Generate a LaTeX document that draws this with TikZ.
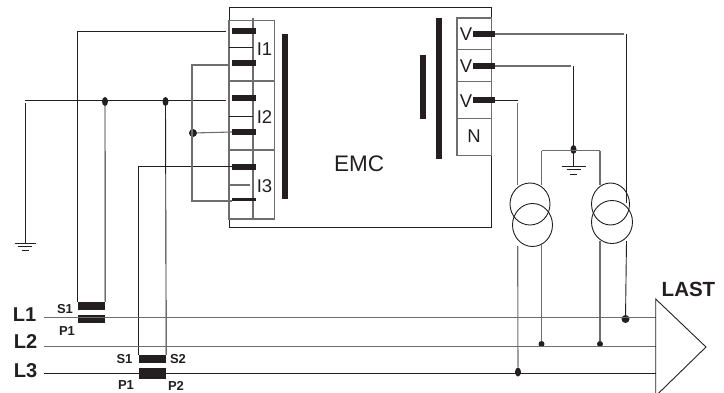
\documentclass[tikz,border=0pt]{standalone}
\usepackage{fontspec}
\setmainfont{Liberation Sans}
\usetikzlibrary{shapes.geometric}
\definecolor{barcol}{HTML}{231F20}
\definecolor{wiregrey}{HTML}{6E6E6E}
\tikzset{
  wire/.style={draw=barcol,line width=0.9pt},
  greywire/.style={draw=wiregrey,line width=1.1pt},
  thinbox/.style={draw=barcol,line width=0.9pt},
  barnode/.style={fill=barcol,inner sep=0pt,minimum width=24pt,minimum height=6pt},
  vbar/.style={fill=barcol,inner sep=0pt,minimum width=6pt},
  ctbar/.style={fill=barcol,inner sep=0pt,minimum width=27pt,minimum height=8pt},
  dotnode/.style={ellipse,fill=barcol,inner sep=0pt,minimum width=6pt,minimum height=6pt},
  tallnode/.style={dotnode,minimum height=9pt},
  termlabel/.style={inner sep=0pt,text=barcol,font=\fontsize{18.5}{18.5}\selectfont},
  ctlabel/.style={inner sep=0pt,text=barcol,font=\fontsize{13}{13}\selectfont\bfseries},
  linelabel/.style={inner sep=0pt,text=barcol,font=\fontsize{20}{20}\selectfont\bfseries}
}
\begin{document}
\begin{tikzpicture}[x=1pt,y=-1pt]
\useasboundingbox (0,0) rectangle (724,392);
\draw[thinbox] (229,7) rectangle (491.5,227.5);
\draw[greywire] (229,20.5) rectangle (274.5,219);
\draw[greywire] (229,81) -- (274.5,81);
\draw[greywire] (229,150) -- (274.5,150);
\draw[greywire] (253,18) -- (253,219);
\draw[wire] (229,47) -- (253,47);
\draw[wire] (229,116) -- (253,116);
\draw[greywire] (229,185) -- (250,185);
\draw[greywire] (457,18) rectangle (491.5,155.5);
\draw[greywire] (457,49.5) -- (491.5,49.5);
\draw[greywire] (457,81.5) -- (491.5,81.5);
\draw[greywire] (457,118.5) -- (491.5,118.5);

\node[barnode] (ione) at (244,31) {};
\node[barnode] (itwo) at (244,63) {};
\node[barnode] (ithree) at (244,98) {};
\node[barnode] (ifour) at (244,132) {};
\node[barnode] (ifive) at (244,167) {};
\node[barnode,minimum height=3pt] (isix) at (244,199) {};
\node[barnode,minimum width=22pt] (vone) at (484,34) {};
\node[barnode,minimum width=22pt] (vtwo) at (484,66) {};
\node[barnode,minimum width=22pt] (vthree) at (484,100) {};
\node[vbar,minimum height=165pt] (barleft) at (285,116.5) {};
\node[vbar,minimum height=141pt] (barright) at (439,88.5) {};
\node[vbar,minimum height=64pt] (barmid) at (423,87) {};

\node[termlabel] (labi) at (264.5,49) {I1};
\node[termlabel] (labii) at (264.5,117) {I2};
\node[termlabel] (labiii) at (264.5,186) {I3};
\node[termlabel] (labva) at (466,34) {V};
\node[termlabel] (labvb) at (466,66) {V};
\node[termlabel] (labvc) at (466,101) {V};
\node[termlabel] (labn) at (474,136) {N};
\node[termlabel,font=\fontsize{22.5}{22.5}\selectfont] (labemc) at (359,164) {EMC};

\node[ctbar] (ctaup) at (91.5,306) {};
\node[ctbar] (ctalow) at (91.5,319) {};
\node[ctbar] (ctbup) at (152.5,359) {};
\node[ctbar,minimum height=11pt] (ctblow) at (152.5,373.5) {};

\node[tallnode] (jone) at (105,101.5) {};
\node[tallnode] (jtwo) at (165.5,101.5) {};
\node[dotnode,minimum width=8pt,minimum height=8pt] (jthree) at (193,133) {};
\node[tallnode] (jfour) at (573.5,149.5) {};
\node[dotnode,minimum width=8pt,minimum height=8pt] (jfive) at (625.5,319) {};
\node[dotnode] (jsix) at (541.5,344) {};
\node[dotnode] (jseven) at (600,344) {};
\node[tallnode] (jeight) at (518,372) {};

\coordinate (gnda) at (25,100);
\coordinate (gndb) at (25,103);
\coordinate (gndc) at (25,243);
\coordinate (gndd) at (573.5,166);
\coordinate (ione in) at (226,31);
\coordinate (ithree in) at (226,100);
\coordinate (ifive in) at (232,166);
\coordinate (itwo in) at (229,65);
\coordinate (itwo turn) at (192,65);
\coordinate (isix turn) at (192,201);
\coordinate (ifour in) at (232,132);
\coordinate (isix in) at (232,201);
\coordinate (vthree turn) at (517.7,103);
\coordinate (boxl) at (541.5,150.5);
\coordinate (boxr) at (600,150.5);

\draw[wire] (ione in) -| (ctaup.north west);
\draw[wire] (gnda) -- (ithree in);
\draw[wire] (gndb) -- (gndc);
\draw[wire] (jone) -- (ctaup.north east);
\draw[wire] (jtwo) -- (ctbup.north east);
\draw[wire] (ifive in) -| (ctbup.north west);
\draw[greywire] (itwo in) -- (itwo turn) -- (isix turn) -- (isix in);
\draw[greywire] (jthree) -- (ifour in);

\draw[greywire] (vone.east) -- (624,34);
\draw[wire] (626.5,34) -- (626.5,203);
\draw[greywire] (vtwo.east) -- (571,66);
\draw[wire] (573.5,66) -- (jfour);
\draw[wire] (jfour) -- (gndd);
\draw[wire] (vthree.east) -- (518,100);
\draw[greywire] (vthree turn) -- (517.7,185);
\draw[greywire] (boxl) -- (boxr);
\draw[greywire] (boxl) -- (541.5,185);
\draw[greywire] (boxr) -- (600,185);

\draw[thinbox] (gndc) ++(-10.5,0) -- ++(21,0);
\draw[thinbox] (gndc) ++(-7,3.5) -- ++(14,0);
\draw[thinbox] (gndc) ++(-3.5,7) -- ++(7,0);
\draw[thinbox] (gndd) ++(-12,0) -- ++(24,0);
\draw[thinbox] (gndd) ++(-7,3.5) -- ++(14,0);
\draw[thinbox] (gndd) ++(-3.5,8) -- ++(7,0);

\draw[thinbox] (530,204) ellipse (20 and 21);
\draw[thinbox] (532.5,225) ellipse (20 and 21.5);
\draw[thinbox] (610.5,204) ellipse (19 and 21);
\draw[thinbox] (612,222) ellipse (20.5 and 21.5);

\draw[greywire] (517.7,246) -- (jeight);
\draw[greywire] (541.5,245) -- (jsix);
\draw[greywire] (600,241) -- (jseven);
\draw[wire] (626.5,241) -- (jfive);

\coordinate (lastt) at (655.7,299);
\coordinate (lastb) at (655.7,396);
\coordinate (lasta) at (706,347);
\draw[greywire] (44,317.7) -- (655.7,317.7);
\draw[greywire] (44,346.7) -- (655.7,346.7);
\draw[wire] (44,373.3) -- (655.7,373.3);
\draw[thinbox] (lastt) -- (lasta) -- (lastb) -- cycle;

\node[linelabel] (labla) at (24.5,315) {L1};
\node[linelabel] (lablb) at (25.5,342) {L2};
\node[linelabel] (lablc) at (25.5,371) {L3};
\node[linelabel,font=\fontsize{20.5}{20.5}\selectfont\bfseries] (lablast) at (688.5,289) {LAST};
\node[ctlabel] (labsa) at (65,309.5) {S1};
\node[ctlabel] (labpa) at (67,331.5) {P1};
\node[ctlabel] (labsb) at (124.5,359.5) {S1};
\node[ctlabel] (labsc) at (178,359.5) {S2};
\node[ctlabel] (labpb) at (126,385.5) {P1};
\node[ctlabel] (labpc) at (176,385.5) {P2};
\end{tikzpicture}
\end{document}
